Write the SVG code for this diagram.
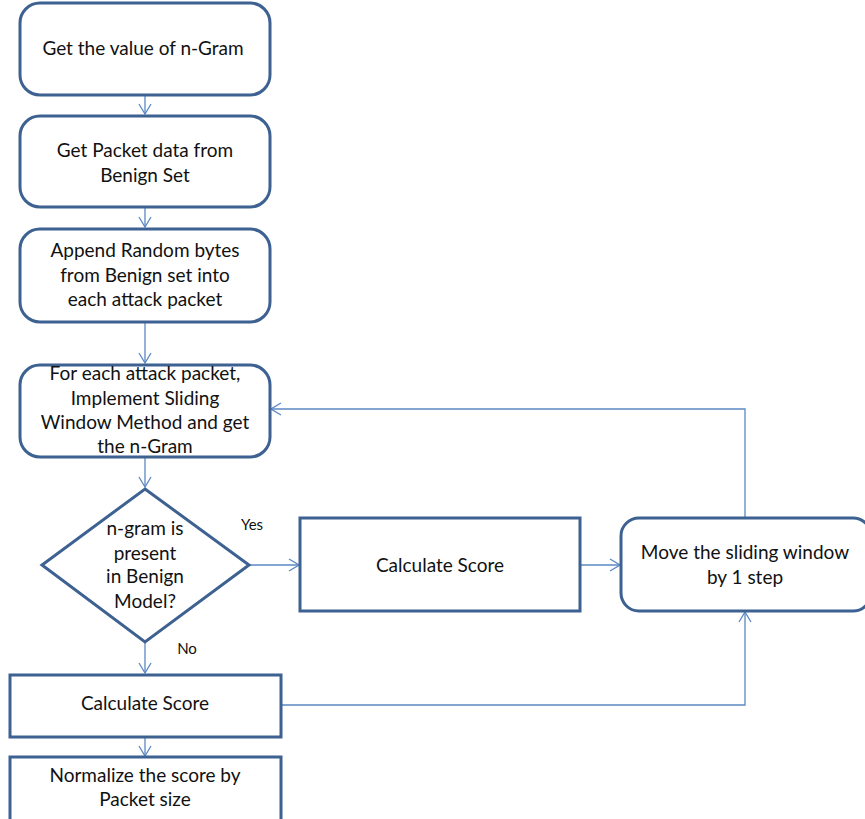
<svg xmlns="http://www.w3.org/2000/svg" width="865" height="819" viewBox="0 0 865 819">
<defs>
<style>
.box{fill:#fff;stroke:#3d6191;stroke-width:3}
.ln{fill:none;stroke:#5b88c4;stroke-width:1.3}
text{font-family:Lato,"Liberation Sans",sans-serif;font-size:19px;fill:#111;text-anchor:middle}
.sm{font-size:15px}
</style>
<marker id="ah" viewBox="0 0 12 14" refX="11" refY="7" markerWidth="12" markerHeight="14" markerUnits="userSpaceOnUse" orient="auto">
<path d="M1,1 L11,7 L1,13" fill="none" stroke="#5b88c4" stroke-width="1.3"/>
</marker>
</defs>
<rect width="865" height="819" fill="#fff"/>
<g id="connectors">
<line class="ln" x1="145" y1="95" x2="145" y2="114" marker-end="url(#ah)"/>
<line class="ln" x1="145" y1="208" x2="145" y2="227" marker-end="url(#ah)"/>
<line class="ln" x1="145" y1="323" x2="145" y2="363" marker-end="url(#ah)"/>
<line class="ln" x1="145" y1="458" x2="145" y2="487" marker-end="url(#ah)"/>
<line class="ln" x1="249" y1="565" x2="299" y2="565" marker-end="url(#ah)"/>
<line class="ln" x1="581" y1="565" x2="620" y2="565" marker-end="url(#ah)"/>
<polyline class="ln" points="745,517 745,409 271,409" marker-end="url(#ah)"/>
<line class="ln" x1="145" y1="643" x2="145" y2="673" marker-end="url(#ah)"/>
<polyline class="ln" points="282,705 745,705 745,612" marker-end="url(#ah)"/>
<line class="ln" x1="145" y1="738" x2="145" y2="756" marker-end="url(#ah)"/>
<text class="sm" x="252" y="530">Yes</text>
<text class="sm" x="187" y="654">No</text>
</g>
<g id="n1"><rect class="box" x="20" y="3" width="250" height="92" rx="20"/><text x="143" y="55">Get the value of n-Gram</text></g>
<g id="n2"><rect class="box" x="20" y="116" width="250" height="91" rx="20"/><text x="145" y="157">Get Packet data from</text><text x="145" y="182">Benign Set</text></g>
<g id="n3"><rect class="box" x="20" y="229" width="250" height="93" rx="20"/><text x="145" y="257">Append Random bytes</text><text x="145" y="282">from Benign set into</text><text x="145" y="306">each attack packet</text></g>
<g id="n4"><rect class="box" x="20" y="365" width="250" height="92" rx="20"/><text x="145" y="380">For each attack packet,</text><text x="145" y="405">Implement Sliding</text><text x="145" y="429">Window Method and get</text><text x="145" y="453">the n-Gram</text></g>
<g id="n5"><polygon class="box" points="145,489 249,565 145,642 42,565"/><text x="145" y="535">n-gram is</text><text x="145" y="560">present</text><text x="145" y="583">in Benign</text><text x="145" y="608">Model?</text></g>
<g id="n6"><rect class="box" x="300" y="518" width="280" height="93"/><text x="440" y="572">Calculate Score</text></g>
<g id="n7"><rect class="box" x="621" y="518" width="250" height="93" rx="18"/><text x="745" y="559">Move the sliding window</text><text x="745" y="584">by 1 step</text></g>
<g id="n8"><rect class="box" x="10" y="675" width="271" height="62"/><text x="145" y="710">Calculate Score</text></g>
<g id="n9"><rect class="box" x="10" y="757" width="271" height="70"/><text x="145" y="782">Normalize the score by</text><text x="145" y="806">Packet size</text></g>
</svg>
